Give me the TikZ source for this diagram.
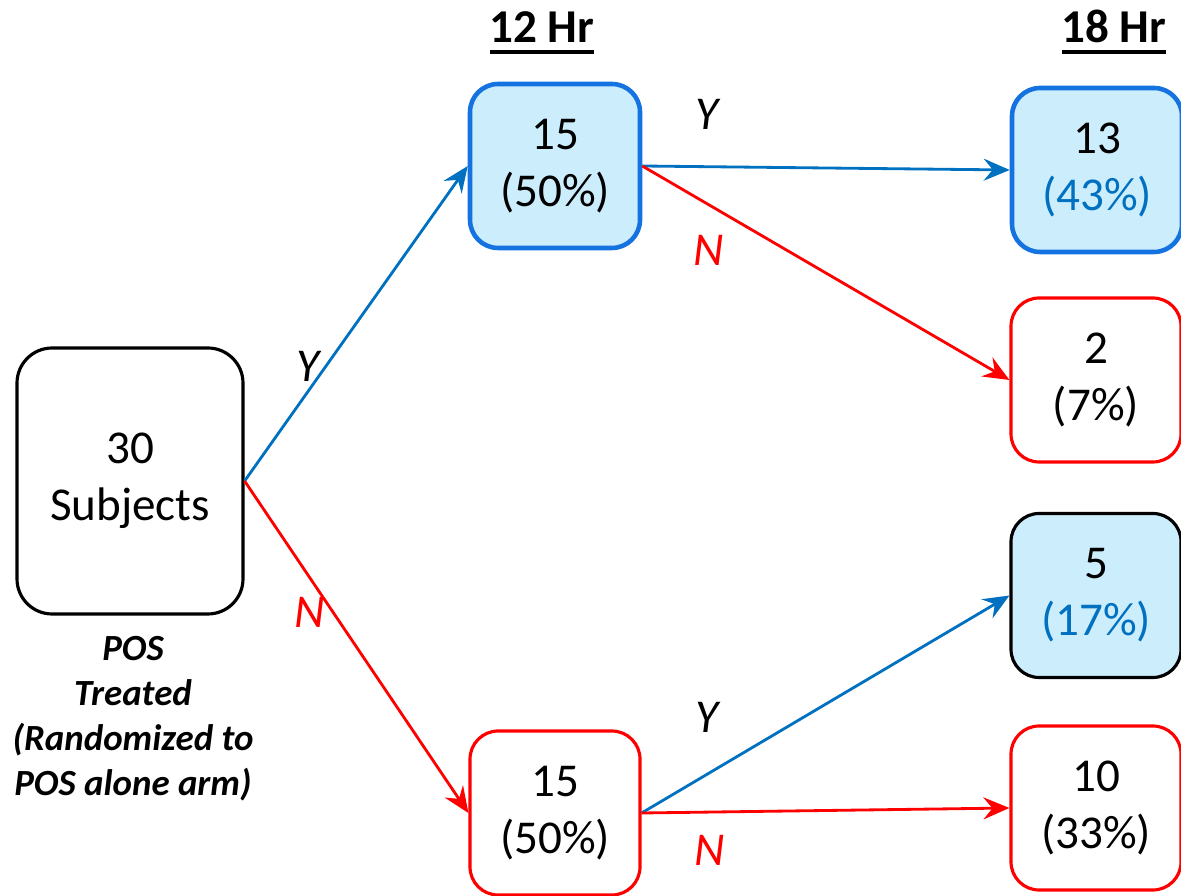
\documentclass[tikz,border=0pt]{standalone}
\usepackage{fontspec}
\setmainfont{Carlito}
\usepackage{xcolor}
\usetikzlibrary{arrows.meta,positioning}

\definecolor{lineblue}{RGB}{0,112,192}
\definecolor{boxblue}{RGB}{20,115,225}
\definecolor{fillblue}{RGB}{204,237,252}
\definecolor{linered}{RGB}{255,0,0}

\newcommand{\ulhead}[1]{\setbox0=\hbox{#1}\rlap{\rule[-0.11cm]{\wd0}{0.04cm}}\box0}

\begin{document}
\begin{tikzpicture}[
  font=\fontsize{13.4}{16.2}\selectfont,
  cohort/.style={draw, line width=0.9pt, rounded corners=8pt, align=center, minimum width=1.70cm, minimum height=1.64cm, inner sep=0pt},
  pool/.style={cohort, rounded corners=10pt, minimum width=2.26cm, minimum height=2.66cm},
  hit/.style={cohort, draw=boxblue, line width=1.3pt, fill=fillblue},
  miss/.style={cohort, draw=linered},
  mixed/.style={cohort, fill=fillblue},
  yesarrow/.style={-{Stealth[length=2.6mm, width=2.2mm, inset=0.9mm]}, line width=0.8pt, draw=lineblue},
  noarrow/.style={-{Stealth[length=2.6mm, width=2.2mm, inset=0.9mm]}, line width=0.8pt, draw=linered},
  lab/.style={inner sep=0pt, font=\fontsize{13.4}{16}\selectfont\itshape},
  head/.style={inner sep=0pt, anchor=base, font=\fontsize{13.4}{16}\selectfont\bfseries},
  arm/.style={align=center, inner sep=0pt, font=\fontsize{10.5}{12.8}\selectfont\bfseries\itshape}
]
\useasboundingbox (0,0) rectangle (11.81,-8.96);

\node[head] (h12) at (5.42,-0.43) {\ulhead{12 Hr}};
\node[head] (h18) at (11.14,-0.43) {\ulhead{18 Hr}};

\node[pool] (subj) at (1.30,-4.81) {30\\Subjects};
\node[arm] (armtxt) at (1.33,-7.19) {POS\\Treated\\(Randomized to\\POS alone arm)};

\node[hit] (hr12y) at (5.55,-1.66) {15\\(50\%)};
\node[miss] (hr12n) at (5.55,-8.13) {15\\(50\%)};

\node[hit] (yy) at (10.97,-1.70) {13\\\textcolor{lineblue}{(43\%)}};
\node[miss] (yn) at (10.96,-3.80) {2\\(7\%)};
\node[mixed] (ny) at (10.96,-5.955) {5\\\textcolor{lineblue}{(17\%)}};
\node[miss] (nn) at (10.96,-8.08) {10\\(33\%)};

\draw[yesarrow] (subj.east) -- (hr12y.west);
\draw[noarrow] (subj.east) -- (hr12n.west);
\draw[yesarrow] (hr12y.east) -- (yy.west);
\draw[noarrow] (hr12y.east) -- (yn.west);
\draw[yesarrow] (hr12n.east) -- (ny.west);
\draw[noarrow] (hr12n.east) -- (nn.west);

\node[lab] (y1) at (3.08,-3.66) {Y};
\node[lab, text=linered] (n1) at (3.10,-6.12) {N};
\node[lab] (y2) at (7.07,-1.14) {Y};
\node[lab, text=linered] (n2) at (7.09,-2.50) {N};
\node[lab] (y3) at (7.07,-7.17) {Y};
\node[lab, text=linered] (n3) at (7.10,-8.50) {N};
\end{tikzpicture}
\end{document}
